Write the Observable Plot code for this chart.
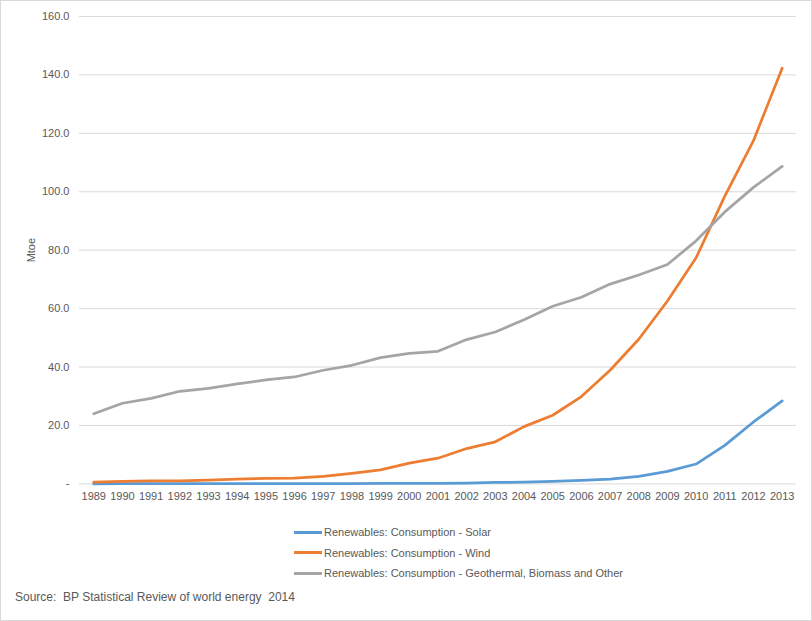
<!DOCTYPE html>
<html>
<head>
<meta charset="utf-8">
<script src="https://cdn.jsdelivr.net/npm/d3@7"></script>
<script src="https://cdn.jsdelivr.net/npm/@observablehq/plot@0.6"></script>
<style>
  html, body { margin: 0; padding: 0; background: #fff; }
  #wrap { position: relative; width: 812px; height: 621px; box-sizing: border-box; border: 1px solid #d9d9d9; font-family: "Liberation Sans", sans-serif; color: #595959; overflow: hidden; }
  #chart { position: absolute; left: -1px; top: -1px; }
  .leg { position: absolute; left: 293px; font-size: 11px; display: flex; align-items: center; white-space: nowrap; height: 14px; }
  .leg span.sw { display: inline-block; width: 28px; height: 3px; margin-right: 2px; }
  #src { position: absolute; left: 14px; top: 589px; font-size: 12px; white-space: nowrap; }
</style>
</head>
<body>
<div id="wrap">
  <div id="chart"></div>
  <div id="legend"></div>
  <div id="src">Source:&nbsp; BP Statistical Review of world energy&nbsp; 2014</div>
</div>
<script>
const years = [1989,1990,1991,1992,1993,1994,1995,1996,1997,1998,1999,2000,2001,2002,2003,2004,2005,2006,2007,2008,2009,2010,2011,2012,2013];
const solar = [0.0,0.1,0.1,0.1,0.1,0.1,0.1,0.1,0.1,0.1,0.2,0.2,0.2,0.3,0.5,0.6,0.9,1.2,1.6,2.6,4.3,6.8,13.2,21.2,28.4];
const wind  = [0.6,0.9,1.0,1.0,1.3,1.6,1.9,2.0,2.6,3.6,4.8,7.1,8.8,12.1,14.4,19.6,23.5,29.9,38.9,49.5,62.6,77.4,98.5,117.5,142.3];
const other = [24.0,27.6,29.3,31.7,32.7,34.2,35.6,36.6,38.9,40.6,43.2,44.7,45.4,49.4,52.0,56.2,60.8,63.9,68.4,71.5,75.1,83.2,93.1,101.5,108.7];
const seriesNames = [
  "Renewables: Consumption - Solar",
  "Renewables: Consumption - Wind",
  "Renewables: Consumption - Geothermal, Biomass and Other"
];
const seriesColors = ["#5b9bd5", "#ed7d31", "#a5a5a5"];
const yTicks = [0,20,40,60,80,100,120,140,160];

const seriesValues = [solar, wind, other];
const data = [];
seriesNames.forEach((name, i) => {
  years.forEach((yr, j) => data.push({year: String(yr), value: seriesValues[i][j], series: name}));
});

const plot = Plot.plot({
  width: 812,
  height: 510,
  marginTop: 16,
  marginBottom: 26,
  marginLeft: 79,
  marginRight: 15,
  style: { fontFamily: "'Liberation Sans', sans-serif", fontSize: "11px", color: "#595959", background: "transparent" },
  x: { type: "point", domain: years.map(String), padding: 0.5, round: false, label: null },
  y: { domain: [0, 160], ticks: yTicks, label: null },
  color: { domain: seriesNames, range: seriesColors },
  marks: [
    Plot.gridY(yTicks, { stroke: "#d9d9d9", strokeOpacity: 1 }),
    Plot.axisY(yTicks, { tickSize: 0, tickPadding: 10, tickFormat: d => d === 0 ? "-" : d.toFixed(1), label: "Mtoe", labelAnchor: "center", labelArrow: "none", labelOffset: 52, fill: "#595959" }),
    Plot.axisX({ tickSize: 0, tickPadding: 8, label: null, fill: "#595959" }),
    Plot.line(data, { x: "year", y: "value", stroke: "series", z: "series", strokeWidth: 2.75, strokeLinejoin: "round", strokeLinecap: "round" })
  ]
});
document.getElementById("chart").appendChild(plot);

const legend = document.getElementById("legend");
seriesNames.forEach((name, i) => {
  const row = document.createElement("div");
  row.className = "leg";
  row.style.top = (524 + i * 20.5) + "px";
  row.innerHTML = `<span class="sw" style="background:${seriesColors[i]}"></span><span>${name}</span>`;
  legend.appendChild(row);
});
</script>
</body>
</html>
